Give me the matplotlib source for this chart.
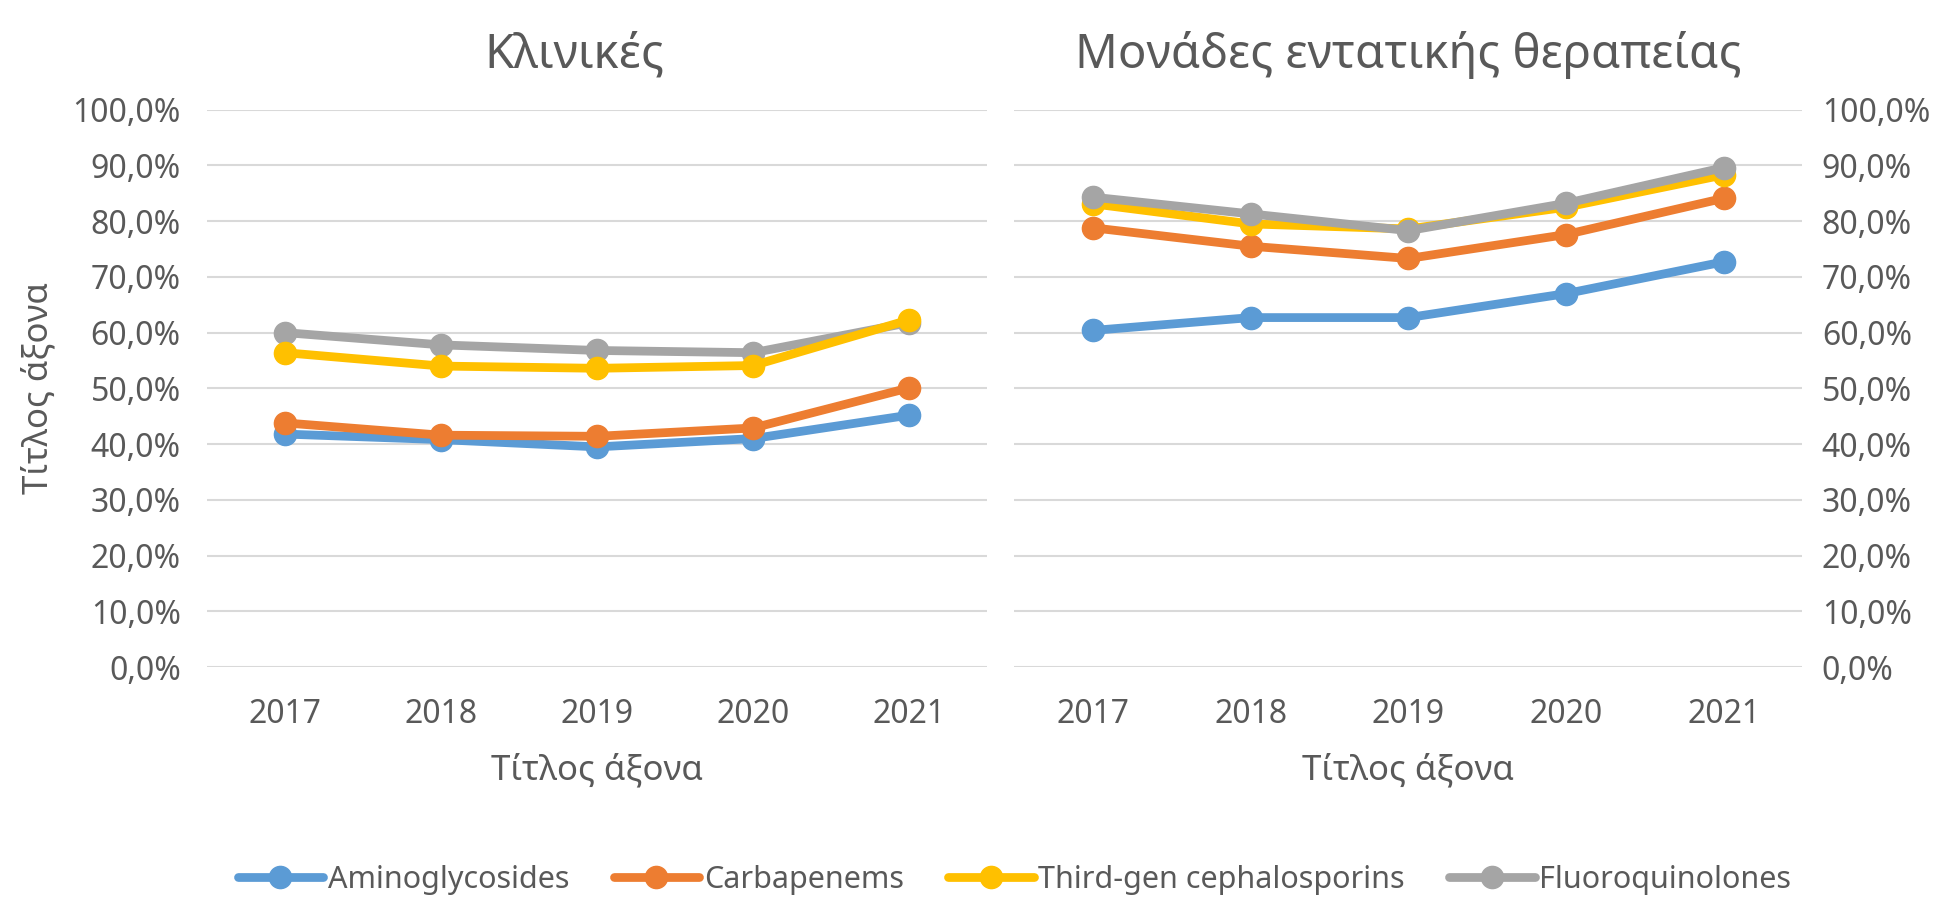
import matplotlib.pyplot as plt
from matplotlib.ticker import FuncFormatter

plt.rcParams['font.family'] = ['Noto Sans', 'DejaVu Sans']

years = ['2017', '2018', '2019', '2020', '2021']
series_names = ['Aminoglycosides', 'Carbapenems', 'Third-gen cephalosporins', 'Fluoroquinolones']
colors = ['#5B9BD5', '#ED7D31', '#FFC000', '#A5A5A5']

# Κλινικές (wards)
ward_amino = [0.418, 0.408, 0.395, 0.410, 0.452]
ward_carba = [0.438, 0.416, 0.414, 0.429, 0.501]
ward_ceph = [0.564, 0.540, 0.536, 0.541, 0.623]
ward_fluoro = [0.600, 0.578, 0.568, 0.564, 0.618]

# Μονάδες εντατικής θεραπείας (ICU)
icu_amino = [0.604, 0.627, 0.627, 0.670, 0.727]
icu_carba = [0.788, 0.755, 0.733, 0.776, 0.841]
icu_ceph = [0.831, 0.795, 0.786, 0.825, 0.883]
icu_fluoro = [0.843, 0.813, 0.783, 0.832, 0.896]

text_col = '#595959'
grid_col = '#D9D9D9'

fig = plt.figure(figsize=(19.36, 8.99), dpi=100)
ax1 = fig.add_axes([0.107, 0.258, 0.403, 0.620])
ax2 = fig.add_axes([0.524, 0.258, 0.407, 0.620])

pct = FuncFormatter(lambda v, p: f'{v*100:.1f}%'.replace('.', ','))


def draw(ax, data, order, title):
    x = list(range(len(years)))
    handles = []
    for i in order:
        h, = ax.plot(x, data[i], color=colors[i], lw=6.3, marker='o', ms=16,
                     solid_capstyle='round', zorder=3 + order.index(i), label=series_names[i])
        handles.append((i, h))
    ax.set_ylim(0, 1)
    ax.set_xlim(-0.5, len(years) - 0.5)
    ax.set_yticks([i / 10 for i in range(11)])
    ax.yaxis.set_major_formatter(pct)
    ax.set_xticks(x)
    ax.set_xticklabels(years)
    ax.grid(axis='y', color=grid_col, lw=1.5, zorder=0)
    for s in ax.spines.values():
        s.set_visible(False)
    ax.tick_params(axis='both', length=0, labelsize=23, labelcolor=text_col)
    ax.tick_params(axis='x', pad=22)
    ax.tick_params(axis='y', pad=19)
    ax.set_title(title, fontsize=34, color=text_col, pad=30)
    ax.set_xlabel('Τίτλος άξονα', fontsize=25, color=text_col, labelpad=16)
    return [h for _, h in sorted(handles)]


hs = draw(ax1, [ward_amino, ward_carba, ward_ceph, ward_fluoro], [0, 1, 3, 2], 'Κλινικές')
draw(ax2, [icu_amino, icu_carba, icu_ceph, icu_fluoro], [0, 1, 2, 3], 'Μονάδες εντατικής θεραπείας')
ax1.title.set_x(0.47)
ax1.set_ylabel('Τίτλος άξονα', fontsize=25, color=text_col, labelpad=12)
ax2.yaxis.tick_right()
ax2.tick_params(axis='y', pad=14)

fig.legend(hs, series_names, loc='center', bbox_to_anchor=(0.524, 0.021), ncol=4,
           frameon=False, fontsize=22, handlelength=2.8, columnspacing=1.45,
           handletextpad=0.15, labelcolor=text_col)

fig.savefig('out.png', dpi=100)
